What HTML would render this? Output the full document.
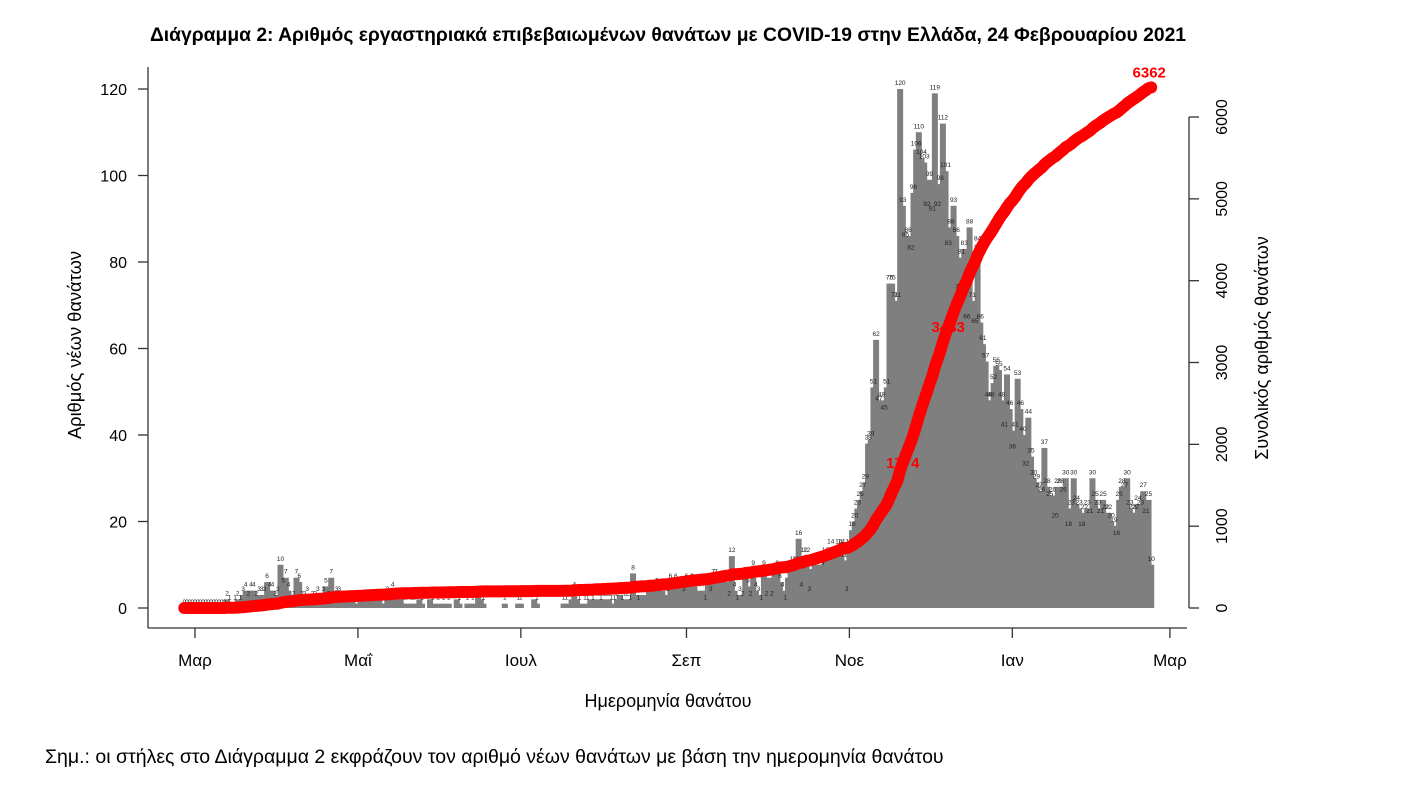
<!DOCTYPE html>
<html><head><meta charset="utf-8"><style>
html,body{margin:0;padding:0;background:#fff;}
svg{display:block;font-family:"Liberation Sans",sans-serif;}
</style></head><body>
<svg id="chart" width="1414" height="788" viewBox="0 0 1414 788" xmlns="http://www.w3.org/2000/svg">
<text x="668" y="41" text-anchor="middle" font-size="19.3" font-weight="bold" fill="#000">Διάγραμμα 2: Αριθμός εργαστηριακά επιβεβαιωμένων θανάτων με COVID-19 στην Ελλάδα, 24 Φεβρουαρίου 2021</text>
<g id="bars"></g>
<g id="barlabels"></g>
<g id="cum"></g>
<g id="axes"></g>
<text x="668" y="707" text-anchor="middle" font-size="18">Ημερομηνία θανάτου</text>
<text transform="translate(81,345) rotate(-90)" text-anchor="middle" font-size="18.3">Αριθμός νέων θανάτων</text>
<text transform="translate(1268,348) rotate(-90)" text-anchor="middle" font-size="18">Συνολικός αριθμός θανάτων</text>
<text x="45" y="763" font-size="19.5">Σημ.: οι στήλες στο Διάγραμμα 2 εκφράζουν τον αριθμό νέων θανάτων με βάση την ημερομηνία θανάτου</text>
</svg>
<script>
// daily deaths by month (first entry of feb2020 = 26 Feb 2020)
const feb2020 = [0,0,0,0];
const mar2020 = [0,0,0,0,0,0,0,0,0,0,0,0,2,1,0,1,2,1,3,4,2,4,4,2,3,3,3,6,4,4,2];
const apr2020 = [3,10,5,7,4,1,2,7,6,2,2,3,1,2,2,3,1,3,5,2,7,2,3,3,2,2,1,2,2,1];
const may2020 = [1,2,2,2,1,2,2,2,2,1,1,3,1,4,2,2,2,1,1,0,1,1,0,2,1,0,0,2,1,0,1];
const jun2020 = [0,1,0,1,0,0,2,1,0,0,1,0,1,0,3,2,1,0,0,0,0,0,0,0,1,0,0,0,0,1];
const jul2020 = [1,0,0,0,0,2,1,0,0,0,0,0,0,0,0,0,1,1,0,2,4,2,1,0,1,1,2,1,2,2,1];
const aug2020 = [2,2,2,1,1,2,3,1,2,2,1,8,3,1,3,0,3,4,0,4,5,4,4,0,3,6,4,6,4,5,3];
const sep2020 = [6,4,6,5,0,4,4,1,6,3,7,7,5,6,6,6,2,12,4,1,3,2,7,5,2,9,4,3,1,9];
const oct2020 = [2,7,2,8,9,6,4,1,7,9,10,10,16,4,12,12,3,9,10,10,10,9,12,11,14,12,12,14,14,11,3];
const nov2020 = [14,18,20,23,25,27,29,38,39,51,62,47,48,45,51,75,75,71,71,120,93,85,86,82,96,106,110,104,103,92];
const dec2020 = [99,91,119,92,98,112,101,83,88,93,86,73,81,83,66,88,71,65,84,66,61,57,48,48,52,56,55,48,41,54,46];
const jan2021 = [36,41,53,46,40,32,44,35,30,29,27,26,37,28,25,26,20,28,28,26,30,18,23,30,24,23,18,22,23,21,30];
const feb2021 = [25,23,21,25,22,22,20,19,16,25,28,27,30,23,22,22,24,23,27,21,25,10];
const leftTicks = [0,20,40,60,80,100,120];
const rightTicks = [0,1000,2000,3000,4000,5000,6000];
const monthLabels = ["Μαρ","Μαΐ","Ιουλ","Σεπ","Νοε","Ιαν","Μαρ"];
const monthTickDays = [4,65,126,188,249,310,369];
const cumLabelDays = [269,286];

const daily = [].concat(feb2020,mar2020,apr2020,may2020,jun2020,jul2020,aug2020,sep2020,oct2020,nov2020,dec2020,jan2021,feb2021);
const NS = "http://www.w3.org/2000/svg";
function xS(d){ return 195 + (d-4)*2.671; }
function yL(v){ return 608 - v*4.325; }
function yR(v){ return 608 - v*0.08183; }
function mk(tag, attrs, parent){ const e=document.createElementNS(NS,tag); for(const k in attrs) e.setAttribute(k,attrs[k]); parent.appendChild(e); return e; }

const gb=document.getElementById('bars'), gl=document.getElementById('barlabels'), gc=document.getElementById('cum'), ga=document.getElementById('axes');
daily.forEach((v,i)=>{
  const x=xS(i);
  if(v>0){
    const r=mk('rect',{x:x-3,y:yL(v),width:6,height:608-yL(v),fill:'#7f7f7f'},gb);
    
    
  }
  if(v>0 || i<16){
    const t=mk('text',{x:x,y:yL(v)-4,'text-anchor':'middle','font-size':'6.5',fill:'#222'},gl);
    
    
    t.textContent=v;
  }
});
// cumulative
let c=0; const cum=daily.map(v=>(c+=v));
const pts=cum.map((v,i)=>xS(i).toFixed(1)+','+yR(v).toFixed(1)).join(' ');
const pl=mk('polyline',{points:pts,fill:'none',stroke:'#ff0000','stroke-width':12,'stroke-linecap':'round','stroke-linejoin':'round'},gc);


cum.forEach((v,i)=>{
  const p=mk('circle',{cx:xS(i),cy:yR(v),r:5.5,fill:'#ff0000'},gc);
  
  
});
const lblDays = cumLabelDays.concat([daily.length-1]);
lblDays.forEach((d,k)=>{
  const last = k===lblDays.length-1;
  const t=mk('text',{x:xS(d)+(last?-2:0),y:yR(cum[d])+(last?-10:5),'text-anchor':'middle','font-size':'15','font-weight':'bold',fill:'#ff0000'},gc);
  
  
  t.textContent=cum[d];
});
// axes
const ax=(a)=>{const e=mk('line',Object.assign({stroke:'#333','stroke-width':1.3},a),ga); return e;};
let e=ax({x1:148,y1:67,x2:148,y2:628});  
e=ax({x1:148,y1:628,x2:1187,y2:628});  
e=ax({x1:1189,y1:yR(6000),x2:1189,y2:yR(0)});  
leftTicks.forEach(v=>{
  const l=ax({x1:138,y1:yL(v),x2:148,y2:yL(v)});
   
  const t=mk('text',{x:127,y:yL(v)+6,'text-anchor':'end','font-size':'16'},ga);
   
  t.textContent=v;
});
rightTicks.forEach(v=>{
  const l=ax({x1:1189,y1:yR(v),x2:1199,y2:yR(v)});
   
  const t=mk('text',{transform:'translate(1227,'+yR(v)+') rotate(-90)','text-anchor':'middle','font-size':'16'},ga);
   
  t.textContent=v;
});
monthTickDays.forEach((d,i)=>{
  const l=ax({x1:xS(d),y1:628,x2:xS(d),y2:638});
   
  const t=mk('text',{x:xS(d),y:666,'text-anchor':'middle','font-size':'17'},ga);
   
  t.textContent=monthLabels[i];
});
</script>
</body></html>
